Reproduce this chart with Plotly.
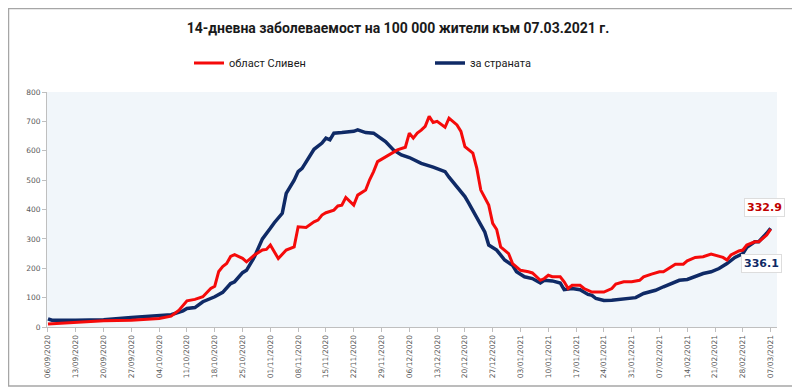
import plotly.graph_objects as go
import pandas as pd

start = pd.Timestamp("2020-09-06")

# област Сливен (red) — day offsets from 06/09/2020 and values
red_days = [0, 7, 14, 21, 28, 31, 33, 35, 37, 39, 41, 42, 43, 44, 45, 46, 47, 49, 50, 52,
            54, 55, 56, 58, 60, 62, 63, 65, 67, 68, 69, 70, 72, 73, 74, 75, 77, 78, 80, 81,
            82, 83, 85, 87, 88, 90, 91, 92, 93, 94, 95, 96, 97, 98, 100, 101, 103, 104, 105, 107,
            108, 109, 111, 112, 113, 114, 116, 117, 119, 121, 122, 124, 125, 126, 127, 129, 130, 131, 132, 134,
            135, 137, 138, 140, 142, 143, 145, 147, 149, 150, 152, 154, 155, 157, 158, 160, 161, 163, 165, 167,
            169, 170, 171, 172, 174, 175, 176, 178, 179, 181, 182]
red_vals = [10, 16, 21, 23, 29, 37, 57, 89, 94, 103, 131, 139, 189, 206, 216, 240, 246, 234, 222, 245,
            262, 264, 279, 233, 262, 273, 341, 339, 358, 364, 381, 389, 398, 412, 415, 441, 415, 449, 466, 501,
            529, 563, 580, 597, 603, 612, 660, 643, 660, 670, 683, 717, 696, 700, 680, 711, 688, 666, 614, 592,
            540, 466, 415, 353, 332, 273, 250, 216, 193, 188, 184, 159, 165, 176, 171, 171, 154, 131, 142, 142,
            131, 119, 119, 119, 131, 146, 154, 154, 159, 171, 180, 188, 188, 205, 214, 214, 225, 237, 239, 248,
            241, 237, 228, 245, 259, 262, 279, 290, 290, 313, 332.9]

# за страната (navy)
blue_days = [0, 1, 7, 14, 21, 28, 31, 34, 35, 37, 39, 42, 44, 46, 47, 49, 50, 52, 54, 56,
             57, 59, 60, 62, 63, 64, 66, 67, 69, 70, 71, 72, 74, 77, 78, 80, 82, 84, 85, 87,
             89, 91, 94, 97, 100, 101, 103, 105, 106, 108, 110, 111, 113, 115, 117, 118, 120, 122, 124, 125,
             127, 129, 130, 132, 134, 136, 137, 138, 140, 142, 145, 148, 150, 153, 155, 157, 159, 161, 163, 165,
             167, 169, 171, 173, 175, 176, 178, 179, 181, 182]
blue_vals = [28, 23, 23, 25, 32, 40, 42, 55, 63, 66, 86, 103, 118, 148, 154, 185, 193, 239, 300, 336,
             355, 387, 455, 500, 529, 540, 586, 605, 626, 643, 637, 660, 662, 666, 671, 662, 660, 639, 631, 603,
             586, 577, 557, 544, 529, 510, 478, 444, 421, 375, 324, 279, 262, 228, 210, 188, 171, 165, 150, 159,
             157, 150, 127, 131, 127, 111, 108, 97, 90, 91, 96, 100, 114, 125, 137, 148, 159, 162, 173, 182,
             188, 199, 216, 237, 250, 271, 290, 290, 319, 336.1]

red_dates = [start + pd.Timedelta(days=d) for d in red_days]
blue_dates = [start + pd.Timedelta(days=d) for d in blue_days]

tick_vals = [start + pd.Timedelta(days=7 * i) for i in range(27)]
tick_text = [t.strftime("%d/%m/%Y") for t in tick_vals]
y_ticks = list(range(0, 801, 100))

RED = "#F50A0A"
NAVY = "#0F2A66"

# figure sits 8 px in from the page corner (body margin)
W, H = 792, 381
L, T, R, B = 39, 84, 23, 62
PW, PH = W - L - R, H - T - B

fig = go.Figure()
fig.add_trace(go.Scatter(x=blue_dates, y=blue_vals, name="за страната", mode="lines",
                         line=dict(color=NAVY, width=3.5), legendrank=2))
fig.add_trace(go.Scatter(x=red_dates, y=red_vals, name="област Сливен", mode="lines",
                         line=dict(color=RED, width=3), legendrank=1))

fig.add_annotation(x=red_dates[-1], y=red_vals[-1], text="<b>332.9</b>", showarrow=False,
                   xshift=-6, yshift=22, font=dict(color="#C00000", size=11, family="DejaVu Sans"),
                   bgcolor="white", bordercolor="#DDDDDD", borderwidth=1, borderpad=2)
fig.add_annotation(x=blue_dates[-1], y=blue_vals[-1], text="<b>336.1</b>", showarrow=False,
                   xshift=-9, yshift=-35, font=dict(color=NAVY, size=11, family="DejaVu Sans"),
                   bgcolor="white", bordercolor="#DDDDDD", borderwidth=1, borderpad=2)

# outer frame
fig.add_shape(type="rect", xref="paper", yref="paper",
              x0=-(L - 0.5) / PW, x1=(W - L - 3) / PW, y0=-(B - 3) / PH, y1=1 + (T - 0.5) / PH,
              line=dict(color="#A6A6A6", width=1.5), layer="below")

fig.update_layout(
    width=W, height=H,
    margin=dict(l=L, r=R, t=T, b=B, autoexpand=False),
    paper_bgcolor="white", plot_bgcolor="#F1F6FA",
    title=dict(text="<b>14-дневна заболеваемост на 100 000 жители към 07.03.2021 г.</b>",
               x=(398 - 8) / W, xanchor="center", y=1 - 20 / H, yanchor="middle",
               font=dict(size=14, color="#1A1A1A", family="Roboto")),
    legend=dict(orientation="h", x=(189 - 47) / PW, xanchor="left",
                y=1 + 29 / PH, yanchor="middle",
                entrywidth=196, entrywidthmode="pixels",
                traceorder="normal",
                font=dict(size=11, color="#1A1A1A", family="Roboto"),
                bgcolor="rgba(0,0,0,0)"),
    showlegend=True,
)
fig.update_xaxes(range=[start - pd.Timedelta(hours=6), start + pd.Timedelta(days=183.6)],
                 tickmode="array", tickvals=tick_vals, ticktext=tick_text, tickangle=-90,
                 tickfont=dict(size=7.5, color="#595959", family="DejaVu Sans"),
                 showgrid=False, showline=True, linecolor="#BFBFBF", linewidth=1,
                 ticks="outside", ticklen=4, tickcolor="#BFBFBF", zeroline=False, automargin=False)
fig.update_yaxes(range=[0, 800], tickvals=y_ticks,
                 tickfont=dict(size=7.5, color="#595959", family="DejaVu Sans"),
                 showgrid=False, showline=True, linecolor="#BFBFBF", linewidth=1,
                 ticks="outside", ticklen=4, tickcolor="#BFBFBF", zeroline=False, automargin=False)

fig.write_html("out.html")
